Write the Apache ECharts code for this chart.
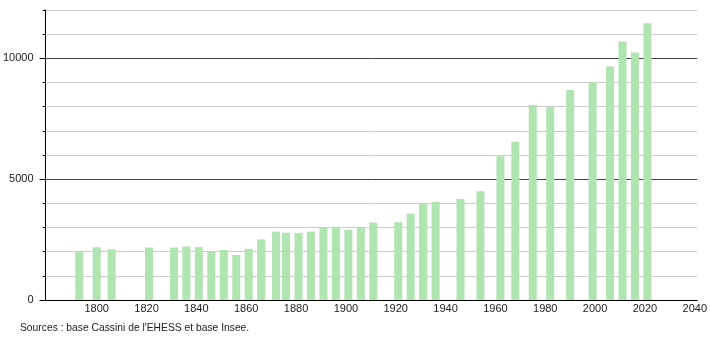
<!DOCTYPE html>
<html>
<head>
<meta charset="utf-8">
<script src="https://cdn.jsdelivr.net/npm/echarts@6/dist/echarts.min.js"></script>
<style>
html,body{margin:0;padding:0;background:#fff;}
#chart{width:710px;height:340px;}
</style>
</head>
<body>
<div id="chart"></div>
<script>
const years = [1793, 1800, 1806, 1821, 1831, 1836, 1841, 1846, 1851, 1856, 1861, 1866, 1872, 1876, 1881, 1886, 1891, 1896, 1901, 1906, 1911, 1921, 1926, 1931, 1936, 1946, 1954, 1962, 1968, 1975, 1982, 1990, 1999, 2006, 2011, 2016, 2021];
const population = [1980, 2180, 2100, 2170, 2170, 2210, 2190, 1990, 2070, 1860, 2120, 2510, 2830, 2780, 2780, 2830, 2980, 3030, 2910, 2990, 3200, 3220, 3570, 3990, 4070, 4180, 4500, 5950, 6550, 8070, 7980, 8690, 9030, 9660, 10700, 10240, 11450];
const xTickLabels = [1800, 1820, 1840, 1860, 1880, 1900, 1920, 1940, 1960, 1980, 2000, 2020, 2040];
const yTickLabels = [0, 5000, 10000];
const sourceText = "Sources : base Cassini de l'EHESS et base Insee.";

const chart = echarts.init(document.getElementById('chart'), null, {renderer: 'canvas'});
const font = 'Liberation Sans, Arial, sans-serif';
const plain = v => String(v);
chart.setOption({
  animation: false,
  backgroundColor: '#fff',
  grid: {left: 44, right: 10, top: 10, bottom: 40, containLabel: false},
  xAxis: {
    type: 'value', min: 1779.5, max: 2041,
    axisLine: {show: true, lineStyle: {color: '#000', width: 1}},
    axisTick: {show: false},
    splitLine: {show: false},
    axisLabel: {customValues: xTickLabels, formatter: plain, color: '#222', fontSize: 11, fontFamily: font, margin: 3}
  },
  yAxis: [
    {
      type: 'value', min: 0, max: 12000, interval: 1000,
      axisLine: {show: true, lineStyle: {color: '#000', width: 1}},
      axisTick: {show: true, length: 3, lineStyle: {color: '#000'}},
      axisLabel: {show: false},
      splitLine: {show: true, lineStyle: {color: ['#444', '#cccccc', '#cccccc', '#cccccc', '#cccccc'], width: 1}}
    },
    {
      type: 'value', min: 0, max: 12000, position: 'left', offset: 0,
      axisLine: {show: false},
      axisTick: {show: true, length: 6, customValues: yTickLabels, lineStyle: {color: '#000'}},
      axisLabel: {customValues: yTickLabels, formatter: plain, color: '#222', fontSize: 11, fontFamily: font, margin: 12},
      splitLine: {show: false}
    }
  ],
  series: [{
    type: 'custom',
    yAxisIndex: 0,
    data: years.map((y, i) => [y, population[i]]),
    encode: {x: 0, y: 1},
    renderItem: function (params, api) {
      const top = api.coord([api.value(0), api.value(1)]);
      const base = api.coord([api.value(0), 0]);
      const w = 8;
      return {
        type: 'rect',
        shape: {x: top[0] - w / 2, y: top[1], width: w, height: base[1] - top[1]},
        style: {fill: '#b0e4b0'}
      };
    }
  }],
  graphic: [{
    type: 'text', left: 20, top: 323,
    style: {text: sourceText, fill: '#222', font: '10.3px ' + font}
  }]
});
</script>
</body>
</html>
